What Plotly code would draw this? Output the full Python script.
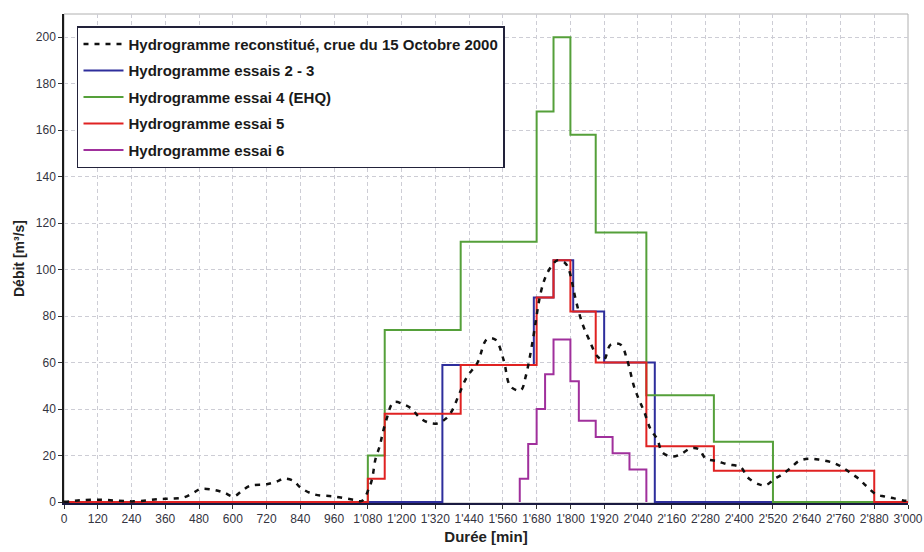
"""
plot.py
-------
Hydrogrammes de crue: reconstitution de la crue du 15 octobre 2000 et essais 2 a 6.
"""

import plotly.graph_objects as go

# Hydrogramme reconstitue (courbe lissee)
t_crue = [0, 21, 60, 128, 190, 246, 300, 342, 380, 425, 460, 484, 531, 570, 603, 632, 662,
          721, 760, 780, 816, 840, 887, 958, 1030, 1059, 1083, 1095, 1107, 1122, 1131, 1146,
          1172, 1208, 1237, 1261, 1291, 1326, 1356, 1380, 1403, 1433, 1469, 1504, 1534,
          1563, 1587, 1623, 1641, 1664, 1694, 1712, 1730, 1753, 1780, 1795, 1819, 1842,
          1866, 1896, 1919, 1943, 1979, 2002, 2026, 2044, 2062, 2085, 2109, 2127, 2163,
          2192, 2228, 2257, 2281, 2317, 2358, 2406, 2430, 2471, 2495, 2524, 2554, 2584,
          2613, 2649, 2690, 2732, 2762, 2797, 2827, 2851, 2886, 2916, 2951, 2987, 3000]
q_crue = [0.1, 0.3, 0.8, 1.0, 0.6, 0.3, 0.8, 1.3, 1.5, 2.0, 4.0, 5.6, 5.3, 4.0, 2.4, 4.8, 7.0,
          7.7, 9.0, 10.1, 9.1, 6.3, 3.4, 2.4, 1.0, 0.5, 5.6, 9.9, 18.4, 24.0, 28.7, 35.5,
          43.0, 42.0, 40.0, 36.7, 34.4, 33.8, 35.8, 39.5, 46.0, 54.0, 59.8, 70.2, 69.8,
          61.0, 49.8, 48.0, 54.0, 68.0, 89.8, 97.0, 101.0, 104.0, 103.0, 99.8, 87.0, 77.0,
          70.0, 62.7, 61.2, 67.7, 67.7, 61.0, 49.8, 44.0, 39.0, 31.3, 27.0, 21.3, 19.6,
          20.6, 23.1, 22.7, 18.7, 17.7, 16.3, 14.9, 10.6, 7.6, 7.3, 9.8, 12.0, 14.8,
          17.7, 18.7, 18.1, 17.0, 15.3, 12.4, 9.8, 7.0, 3.4, 2.4, 1.6, 0.6, 0.5]

# Hydrogrammes d'essai (paliers)
t_essai23 = [0, 1345, 1670, 1740, 1810, 1920, 2100, 3000]
q_essai23 = [0, 59, 88, 104, 82, 60, 0, 0]

t_essai4 = [0, 1080, 1140, 1410, 1680, 1740, 1800, 1890, 2070, 2310, 2520, 3000]
q_essai4 = [0, 20, 74, 112, 168, 200, 158, 116, 46, 26, 0, 0]

t_essai5 = [0, 1080, 1140, 1410, 1680, 1740, 1800, 1890, 2070, 2310, 2880, 3000]
q_essai5 = [0, 10, 38, 59, 88, 104, 82, 60, 24, 13.5, 0, 0]

t_essai6 = [1620, 1620, 1650, 1680, 1710, 1740, 1800, 1830, 1890, 1950, 2010, 2070]
q_essai6 = [0, 10, 25, 40, 55, 70, 52, 35, 28, 21, 14, 0]

x_ticks = list(range(0, 3001, 120))
x_ticktext = [f"{v // 1000}'{v % 1000:03d}" if v >= 1000 else str(v) for v in x_ticks]

fig = go.Figure()

steps = [
    ("Hydrogramme essais 2 - 3", t_essai23, q_essai23, "#2e2e9c", 2),
    ("Hydrogramme essai 4 (EHQ)", t_essai4, q_essai4, "#55a03a", 3),
    ("Hydrogramme essai 5", t_essai5, q_essai5, "#e02222", 4),
    ("Hydrogramme essai 6", t_essai6, q_essai6, "#a0309c", 5),
]
for name, t, q, color, rank in steps:
    fig.add_trace(go.Scatter(
        x=t, y=q, name=name, mode="lines", line_shape="hv",
        line=dict(color=color, width=2), legendrank=rank, legendgroup=name,
    ))

fig.add_trace(go.Scatter(
    x=t_crue, y=q_crue, name="Hydrogramme reconstitué, crue du 15 Octobre 2000",
    mode="lines", line=dict(color="#111111", width=2.5, dash="5px,6px", shape="spline"),
    legendrank=1, legendgroup="crue",
))

grid = dict(showgrid=True, gridcolor="#cdcdd5", griddash="4px,3px", gridwidth=1)

fig.update_layout(
    width=924, height=552,
    margin=dict(l=64, r=16, t=14, b=49),
    paper_bgcolor="white", plot_bgcolor="white",
    font=dict(family="Liberation Sans, Arial, sans-serif", size=12, color="#333340"),
    xaxis=dict(
        range=[0, 3000], tickvals=x_ticks, ticktext=x_ticktext,
        ticks="outside", ticklen=4, tickcolor="#333333",
        showline=True, linecolor="#1a1a40", linewidth=1.5, layer="below traces",
        title=dict(text="Durée [min]", font=dict(size=15, weight="bold", color="#222222"),
                   standoff=6),
        zeroline=False, automargin=False, **grid,
    ),
    yaxis=dict(
        range=[-0.4, 210], tickvals=list(range(0, 201, 20)),
        ticks="outside", ticklen=4, tickcolor="#333333",
        showline=True, linecolor="#1a1a1a", linewidth=1.5, layer="below traces",
        title=dict(text="Débit [m³/s]", font=dict(size=14, weight="bold", color="#222222"),
                   standoff=8),
        zeroline=False, automargin=False, **grid,
    ),
    legend=dict(
        x=0.0154, y=0.975, xanchor="left", yanchor="top",
        bgcolor="white", bordercolor="#22223a", borderwidth=1.5,
        font=dict(size=15, weight="bold", color="#1a1a1a"),
        itemwidth=40, tracegroupgap=4,
    ),
    shapes=[dict(type="rect", xref="paper", yref="paper", x0=0, x1=1, y0=0, y1=1,
                 line=dict(color="#b0b0b0", width=1), layer="below")],
)

# the page's default body margin would shift the chart by 8px
fig.write_html("out.html", config={"displayModeBar": False},
               post_script="document.body.style.margin='0';")
